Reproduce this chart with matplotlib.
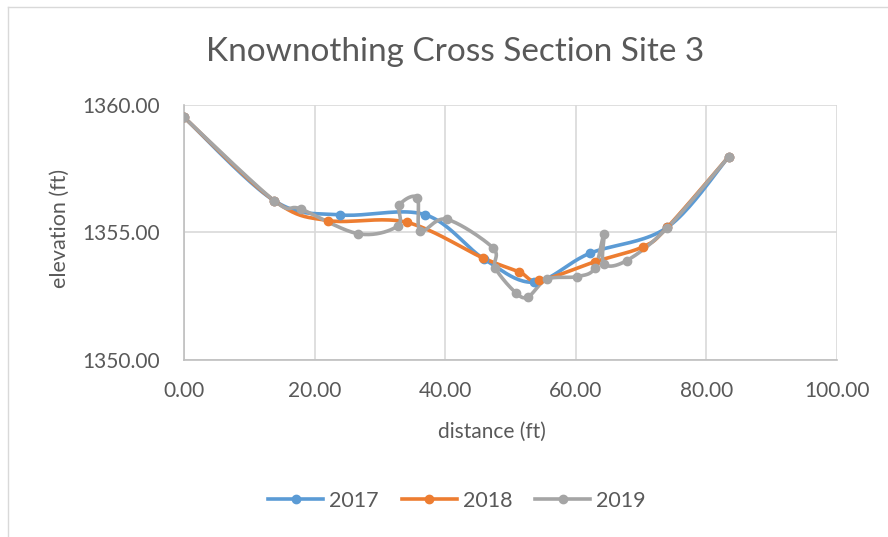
import numpy as np
import matplotlib
matplotlib.use("Agg")
import matplotlib.pyplot as plt
from matplotlib.lines import Line2D

plt.rcParams['font.family'] = ['Lato', 'DejaVu Sans']

# ---- data ----
x2017 = [0.0, 13.8, 23.9, 36.9, 46.0, 53.6, 62.1, 74.0, 83.4]
y2017 = [1359.52, 1356.25, 1355.69, 1355.70, 1353.95, 1353.05, 1354.18, 1355.20, 1357.97]

x2018 = [0.0, 13.8, 22.0, 34.1, 45.8, 51.3, 54.4, 62.9, 70.3, 74.0, 83.4]
y2018 = [1359.52, 1356.25, 1355.47, 1355.40, 1354.00, 1353.46, 1353.12, 1353.85, 1354.44, 1355.20, 1357.97]

x2019 = [0.0, 13.8, 17.9, 26.7, 32.7, 33.0, 35.7, 36.2, 40.2, 47.3, 47.7, 50.8, 52.7,
         55.6, 60.2, 62.9, 64.3, 64.3, 67.8, 74.0, 83.4]
y2019 = [1359.52, 1356.25, 1355.92, 1354.95, 1355.25, 1356.08, 1356.37, 1355.06, 1355.52,
         1354.40, 1353.60, 1352.64, 1352.48, 1353.17, 1353.27, 1353.60, 1354.93, 1353.78,
         1353.90, 1355.18, 1357.97]

series_names = ["2017", "2018", "2019"]
series_colors = ["#5B9BD5", "#ED7D31", "#A5A5A5"]
title = "Knownothing Cross Section Site 3"
x_label = "distance (ft)"
y_label = "elevation (ft)"
x_ticks = [0, 20, 40, 60, 80, 100]
y_ticks = [1350, 1355, 1360]


def smooth(x, y, n=24):
    pts = np.column_stack([x, y]).astype(float)
    P = np.vstack([pts[0], pts, pts[-1]])
    out = []
    t = np.linspace(0, 1, n)[:, None]
    for i in range(1, len(P) - 2):
        p0, p1, p2, p3 = P[i - 1], P[i], P[i + 1], P[i + 2]
        c1 = p1 + (p2 - p0) / 6.0
        c2 = p2 - (p3 - p1) / 6.0
        b = ((1 - t) ** 3) * p1 + 3 * ((1 - t) ** 2) * t * c1 + 3 * (1 - t) * t ** 2 * c2 + t ** 3 * p2
        out.append(b)
    return np.vstack(out)


fig = plt.figure(figsize=(8.88, 5.37), dpi=100)
fig.patch.set_facecolor("white")
ax = fig.add_axes([184 / 888, 1 - 360 / 537, (837 - 184) / 888, (360 - 105) / 537])

data = [(x2017, y2017), (x2018, y2018), (x2019, y2019)]
for (xs, ys), name, col in zip(data, series_names, series_colors):
    c = smooth(xs, ys)
    ax.plot(c[:, 0], c[:, 1], color=col, lw=2.6, solid_capstyle='round', zorder=3)
    ax.plot(xs, ys, 'o', color=col, ms=6, zorder=4)

ax.set_xlim(0, 100)
ax.set_ylim(1350, 1360)
ax.set_xticks(x_ticks)
ax.set_yticks(y_ticks)
ax.set_xticklabels([f"{v:.2f}" for v in x_ticks])
ax.set_yticklabels([f"{v:.2f}" for v in y_ticks])
ax.tick_params(length=0, labelsize=15, colors="#595959")
ax.tick_params(axis='y', pad=17)
ax.tick_params(axis='x', pad=15)
ax.grid(True, color="#D9D9D9", lw=1.2)
ax.set_axisbelow(True)
for s in ["top", "right"]:
    ax.spines[s].set_visible(False)
for s in ["left", "bottom"]:
    ax.spines[s].set_color("#BFBFBF")
    ax.spines[s].set_linewidth(1.2)

fig.text(455 / 888, 1 - 52 / 537, title, ha="center", va="center", fontsize=24, color="#595959")
fig.text(492 / 888, 1 - 432 / 537, x_label, ha="center", va="center", fontsize=15, color="#595959")
fig.text(60 / 888, 1 - 228 / 537, y_label, ha="center", va="center", rotation=90, fontsize=15.5, color="#595959")

handles = [Line2D([0], [0], color=c, lw=2.6, marker='o', ms=6) for c in series_colors]
fig.legend(handles, series_names, loc="center", bbox_to_anchor=(457 / 888, 1 - 501 / 537), ncol=3,
           frameon=False, fontsize=15.5, handlelength=2.55, columnspacing=1.07, handletextpad=0.28,
           labelcolor="#595959")

# chart border
fig.add_artist(Line2D([8 / 888, 8 / 888], [0, 1 - 7 / 537], transform=fig.transFigure, color="#D9D9D9", lw=1))
fig.add_artist(Line2D([8 / 888, 1], [1 - 7 / 537, 1 - 7 / 537], transform=fig.transFigure, color="#D9D9D9", lw=1))

fig.savefig("out.png", dpi=100)
